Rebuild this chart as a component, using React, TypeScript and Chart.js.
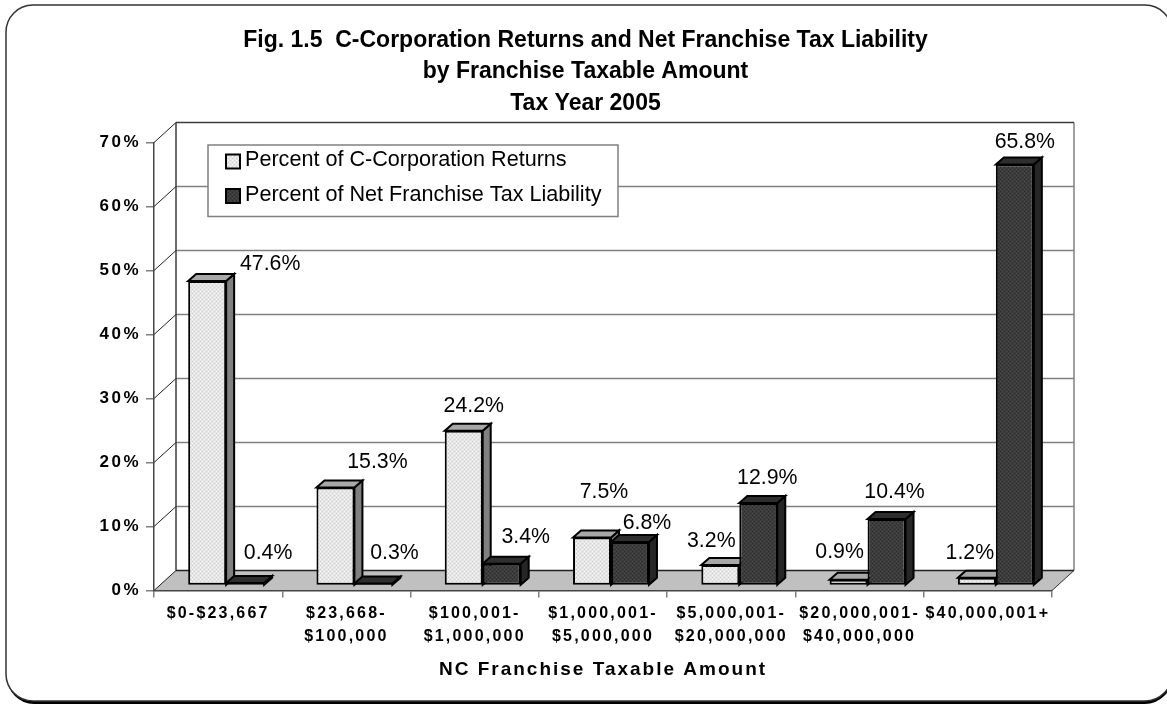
import React, { useEffect, useRef } from "react";
import { Chart, registerables } from "chart.js";

Chart.register(...registerables);

const categories = [
  "$0-$23,667",
  ["$23,668-", "$100,000"],
  ["$100,001-", "$1,000,000"],
  ["$1,000,001-", "$5,000,000"],
  ["$5,000,001-", "$20,000,000"],
  ["$20,000,001-", "$40,000,000"],
  "$40,000,001+",
];
const returnsPct = [47.6, 15.3, 24.2, 7.5, 3.2, 0.9, 1.2];
const liabilityPct = [0.4, 0.3, 3.4, 6.8, 12.9, 10.4, 65.8];
const titleLines = [
  "Fig. 1.5  C-Corporation Returns and Net Franchise Tax Liability",
  "by Franchise Taxable Amount",
  "Tax Year 2005",
];
const xTitle = "NC Franchise Taxable Amount";
const seriesNames = ["Percent of C-Corporation Returns", "Percent of Net Franchise Tax Liability"];

// hand placement of the value labels, relative to the top of each bar
const labelOffsets = [
  [[63, -16], [42, -25], [10, -24], [12, -45], [-9, -23.5], [-9, -27], [-7, -24]],
  [[23, -29], [21, -30], [24, -26], [17, -18.5], [9, -24], [8, -26], [10, -22]],
];

const FONT = "'Liberation Sans', Arial, sans-serif";
const WALL = { dx: 22, dy: -20 };
const PLANE = { dx: 8, dy: -5 };
const DEPTH = { dx: 8, dy: -7 };
const FACE = [
  { top: "#a8a8a8", side: "#808080" },
  { top: "#2e2e2e", side: "#262626" },
];

function makePattern(base: string, dot: string, dot2: string) {
  const c = document.createElement("canvas");
  c.width = 4;
  c.height = 4;
  const g = c.getContext("2d")!;
  g.fillStyle = base;
  g.fillRect(0, 0, 4, 4);
  g.fillStyle = dot;
  g.fillRect(0, 0, 1, 1);
  g.fillRect(2, 2, 1, 1);
  g.fillStyle = dot2;
  g.fillRect(2, 0, 1, 1);
  g.fillRect(0, 2, 1, 1);
  return g.createPattern(c, "repeat")!;
}

function spaced(ctx: any, obj: any, method: string, spacing: string) {
  if (!obj || obj["__w_" + method]) return;
  const orig = obj[method];
  obj["__w_" + method] = true;
  obj[method] = function (...args: any[]) {
    ctx.save();
    ctx.letterSpacing = spacing;
    orig.apply(this, args);
    ctx.restore();
  };
}

function poly(ctx: any, pts: number[][], fill: string | null, stroke: string | null, lw = 1) {
  ctx.beginPath();
  pts.forEach((p, i) => (i ? ctx.lineTo(p[0], p[1]) : ctx.moveTo(p[0], p[1])));
  ctx.closePath();
  if (fill) {
    ctx.fillStyle = fill;
    ctx.fill();
  }
  if (stroke) {
    ctx.strokeStyle = stroke;
    ctx.lineWidth = lw;
    ctx.lineJoin = "miter";
    ctx.stroke();
  }
}

function line(ctx: any, x1: number, y1: number, x2: number, y2: number, color: string, lw: number) {
  ctx.beginPath();
  ctx.moveTo(x1, y1);
  ctx.lineTo(x2, y2);
  ctx.strokeStyle = color;
  ctx.lineWidth = lw;
  ctx.stroke();
}

const scene = {
  id: "scene3d",
  afterLayout(chart: any) {
    // the title centres on the whole frame, not on the plot
    const t = chart.titleBlock;
    t.left = 2;
    t.right = 1169;
  },
  beforeDraw(chart: any) {
    const { ctx, chartArea: a, scales } = chart;
    spaced(ctx, scales.x, "drawLabels", "2.2px");
    spaced(ctx, scales.x, "drawTitle", "2px");
    spaced(ctx, scales.y, "drawLabels", "2.5px");

    // outer rounded frame with its shadow
    ctx.save();
    ctx.beginPath();
    ctx.roundRect(7, 7, 1165, 697, 27);
    ctx.fillStyle = "#000";
    ctx.fill();
    ctx.beginPath();
    ctx.roundRect(6, 5, 1166, 696, 27);
    ctx.fillStyle = "#fff";
    ctx.fill();
    ctx.strokeStyle = "#333";
    ctx.lineWidth = 1.5;
    ctx.stroke();

    // floor
    const bx0 = a.left + WALL.dx;
    const bx1 = a.right + WALL.dx;
    const by0 = a.bottom + WALL.dy;
    const by1 = a.top + WALL.dy;
    poly(ctx, [[a.left, a.bottom], [bx0, by0], [bx1, by0], [a.right, a.bottom]], "#c0c0c0", null);
    // back wall grid
    scales.y.ticks.forEach((t: any) => {
      const y = scales.y.getPixelForValue(t.value);
      if (t.value > 0 && t.value < 70) line(ctx, bx0, y + WALL.dy, bx1, y + WALL.dy, "#808080", 1.5);
      line(ctx, a.left, y, bx0, y + WALL.dy, "#222", 1);
    });
    line(ctx, bx1, by1, bx1, by0, "#808080", 1.5);
    line(ctx, bx0, by1, bx1, by1, "#3c3c3c", 1.5);
    line(ctx, bx0, by1, bx0, by0, "#3c3c3c", 1.5);
    line(ctx, bx0, by0, bx1, by0, "#222", 1.5);
    line(ctx, a.right, a.bottom, bx1, by0, "#333", 1);

    // legend box, one row per dataset
    ctx.beginPath();
    ctx.rect(208, 145, 410, 71.5);
    ctx.fillStyle = "#fff";
    ctx.fill();
    ctx.strokeStyle = "#808080";
    ctx.lineWidth = 1.5;
    ctx.stroke();
    chart.data.datasets.forEach((ds: any, i: number) => {
      const cy = 161.5 + i * 34.5;
      ctx.fillStyle = ds.backgroundColor;
      ctx.fillRect(226, cy - 7, 14, 14);
      ctx.strokeStyle = "#000";
      ctx.lineWidth = 2;
      ctx.strokeRect(226, cy - 7, 14, 14);
      ctx.font = `21.6px ${FONT}`;
      ctx.fillStyle = "#000";
      ctx.textAlign = "left";
      ctx.textBaseline = "middle";
      ctx.fillText(ds.label, 245, cy - 1);
    });
    ctx.restore();
  },
  beforeDatasetsDraw(chart: any) {
    const { ctx } = chart;
    ctx.save();
    ctx.translate(PLANE.dx, PLANE.dy);
    // sides and tops of the bars, then the library paints the fronts
    [0, 1].forEach((d) => {
      chart.getDatasetMeta(d).data.forEach((bar: any) => {
        const { x, y, base, width } = bar.getProps(["x", "y", "base", "width"], true);
        const l = x - width / 2;
        const r = x + width / 2;
        const top = y;
        poly(ctx, [[r, top], [r + DEPTH.dx, top + DEPTH.dy], [r + DEPTH.dx, base + DEPTH.dy], [r, base]], FACE[d].side, "#000", 2);
        poly(ctx, [[l, top], [l + DEPTH.dx, top + DEPTH.dy], [r + DEPTH.dx, top + DEPTH.dy], [r, top]], FACE[d].top, "#000", 2);
      });
    });
  },
  afterDatasetsDraw(chart: any) {
    const { ctx } = chart;
    [0, 1].forEach((d) => {
      const ds = chart.data.datasets[d];
      chart.getDatasetMeta(d).data.forEach((bar: any, i: number) => {
        const { x, y } = bar.getProps(["x", "y"], true);
        const off = labelOffsets[d][i];
        ctx.font = `21.3px ${FONT}`;
        ctx.fillStyle = "#000";
        ctx.textAlign = "center";
        ctx.textBaseline = "middle";
        ctx.fillText(`${ds.data[i].toFixed(1)}%`, x + off[0], y + off[1] - 0.5);
      });
    });
    ctx.restore();
  },
};

export default function App() {
  const ref = useRef<HTMLCanvasElement>(null);
  useEffect(() => {
    const lightFill = makePattern("#e6e6e6", "#f6f6f6", "#cfcfcf");
    const darkFill = makePattern("#3c3c3c", "#2a2a2a", "#4a4a4a");
    const chart = new Chart(ref.current!, {
      type: "bar",
      data: {
        labels: categories as any,
        datasets: [
          { label: seriesNames[0], data: returnsPct, backgroundColor: lightFill as any, borderColor: "#000", borderWidth: 2, borderSkipped: false, clip: false as any },
          { label: seriesNames[1], data: liabilityPct, backgroundColor: darkFill as any, borderColor: "#000", borderWidth: 2, borderSkipped: false, clip: false as any },
        ],
      },
      plugins: [scene],
      options: {
        animation: false,
        responsive: false,
        layout: { padding: { left: 0, right: 115, top: 0, bottom: 0 } },
        datasets: { bar: { categoryPercentage: 0.592, barPercentage: 1 } },
        scales: {
          x: {
            grid: { drawOnChartArea: false, color: "#808080", lineWidth: 1.5, tickLength: 7, offset: true },
            border: { color: "#444", width: 1.5 },
            ticks: {
              autoSkip: false,
              maxRotation: 0,
              minRotation: 0,
              color: "#000",
              padding: 5,
              font: { family: FONT, size: 16, weight: "bold", lineHeight: 1.4 },
            },
            title: {
              display: true,
              text: xTitle,
              color: "#000",
              font: { family: FONT, size: 19, weight: "bold" },
              padding: { top: 0, bottom: 24 },
            },
            afterFit: (s: any) => {
              s.height = 114.5;
            },
          },
          y: {
            min: 0,
            max: 70,
            grid: { drawOnChartArea: false, color: "#808080", lineWidth: 1.5, tickLength: 8 },
            border: { color: "#444", width: 1.5 },
            ticks: {
              stepSize: 10,
              padding: 5,
              color: "#000",
              font: { family: FONT, size: 17, weight: "bold" },
              callback: (v: any) => `${v}%`,
            },
            afterFit: (s: any) => {
              s.width = 154;
            },
          },
        },
        plugins: {
          tooltip: { enabled: false },
          legend: { display: false },
          title: {
            display: true,
            text: titleLines,
            color: "#000",
            font: { family: FONT, size: 23, weight: "bold", lineHeight: 1.37 },
            padding: { top: 24.5, bottom: 23.5 },
          },
        },
      },
    });
    return () => chart.destroy();
  }, []);
  return (
    <div style={{ position: "absolute", left: 0, top: 0, width: 1167, height: 705, overflow: "hidden" }}>
      <canvas ref={ref} width={1167} height={705} style={{ display: "block" }} />
    </div>
  );
}
